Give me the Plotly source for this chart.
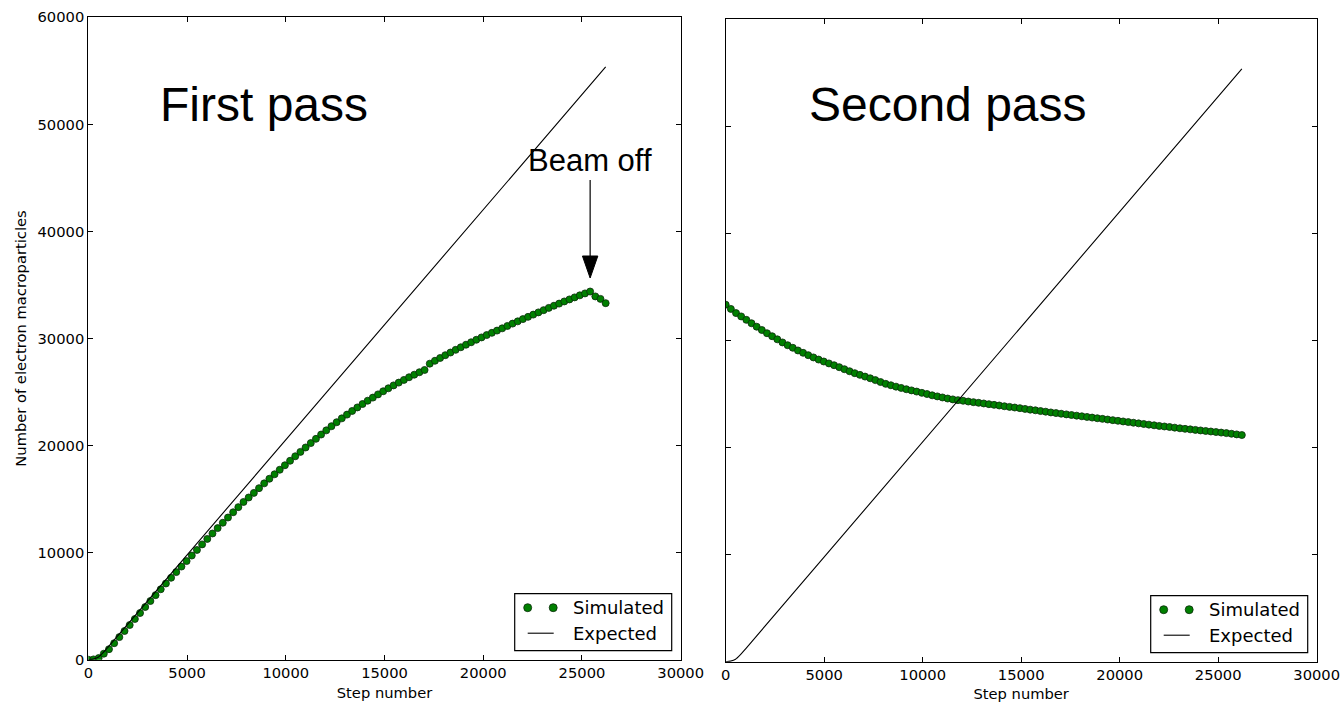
import plotly.graph_objects as go

# Electron macroparticle counts, sampled every STEP_INTERVAL steps
STEP_INTERVAL = 262

first_pass_electrons = [
    0, 30, 150, 560, 980, 1540, 2110, 2680, 3240, 3800,
    4360, 4920, 5480, 6030, 6580, 7120, 7650, 8180, 8700, 9210,
    9730, 10250, 10770, 11280, 11790, 12290, 12790, 13280, 13770, 14250,
    14730, 15150, 15580, 16020, 16470, 16900, 17320, 17740, 18160, 18580,
    19000, 19410, 19820, 20230, 20630, 21030, 21420, 21810, 22180, 22540,
    22890, 23230, 23560, 23880, 24190, 24480, 24780, 25070, 25350, 25620,
    25880, 26130, 26380, 26620, 26850, 27060, 27650, 27920, 28180, 28440,
    28690, 28940, 29180, 29420, 29650, 29880, 30100, 30320, 30530, 30740,
    30950, 31170, 31390, 31600, 31810, 32020, 32230, 32440, 32650, 32860,
    33060, 33260, 33460, 33650, 33840, 34030, 34210, 34390, 33930, 33700,
    33300,
]

second_pass_electrons = [
    33350, 32950, 32560, 32250, 31930, 31610, 31290, 30980, 30680, 30400,
    30110, 29820, 29560, 29320, 29070, 28850, 28630, 28420, 28220, 28040,
    27860, 27690, 27510, 27320, 27130, 26950, 26790, 26630, 26470, 26300,
    26120, 25950, 25820, 25690, 25570, 25450, 25340, 25230, 25110, 25000,
    24880, 24780, 24680, 24580, 24500, 24430, 24370, 24300, 24240, 24180,
    24120, 24050, 23990, 23930, 23860, 23800, 23740, 23680, 23610, 23540,
    23480, 23410, 23350, 23280, 23220, 23160, 23100, 23040, 22980, 22920,
    22860, 22800, 22740, 22680, 22620, 22560, 22500, 22440, 22380, 22320,
    22260, 22200, 22140, 22080, 22020, 21970, 21920, 21860, 21800, 21750,
    21700, 21650, 21600, 21550, 21500, 21450, 21400, 21350, 21290, 21230,
    21170,
]

steps = [STEP_INTERVAL * i for i in range(len(first_pass_electrons))]

expected_steps = [0, 250, 500, 750, 1000, 26200]
expected_electrons = [0, 55, 230, 660, 1183, 55362]

x_ticks = [0, 5000, 10000, 15000, 20000, 25000, 30000]
y_ticks = [0, 10000, 20000, 30000, 40000, 50000, 60000]

panel_titles = ["First pass", "Second pass"]
beam_off_label = "Beam off"
legend_labels = ["Simulated", "Expected"]
x_title = "Step number"
y_title = "Number of electron macroparticles"

# ---------------------------------------------------------------------------
W, H = 1340, 702
GREEN = "#008000"
EDGE = "#0b2a0b"
TICK_FONT = dict(family="DejaVu Sans", size=14.7, color="black")


def px(x):
    return x / W


def py(y):
    return 1 - y / H


# plot-area rectangles in pixels: (left, top, right, bottom)
panels = [(88.3, 17.3, 680.7, 659.7), (725.7, 19.3, 1316.7, 661.7)]

fig = go.Figure()

for i, series in enumerate([first_pass_electrons, second_pass_electrons]):
    xa = "x" if i == 0 else "x2"
    ya = "y" if i == 0 else "y2"
    fig.add_trace(go.Scatter(
        x=steps, y=series, mode="markers", xaxis=xa, yaxis=ya,
        marker=dict(size=7, color=GREEN, line=dict(color=EDGE, width=0.8)),
        showlegend=False, hoverinfo="skip",
    ))
    fig.add_trace(go.Scatter(
        x=expected_steps, y=expected_electrons, mode="lines", xaxis=xa, yaxis=ya,
        line=dict(color="black", width=1.1, shape="spline", smoothing=0.6),
        showlegend=False, hoverinfo="skip",
    ))

axis_common = dict(
    showline=True, linecolor="black", linewidth=1.2, mirror="ticks",
    ticks="inside", ticklen=5, tickwidth=1, tickcolor="black",
    showgrid=False, zeroline=False, tickfont=TICK_FONT, tickformat="d",
    automargin=False, ticklabeloverflow="allow",
)

layout_axes = {}
for i, (l, t, r, b) in enumerate(panels):
    sfx = "" if i == 0 else "2"
    layout_axes["xaxis" + sfx] = dict(
        axis_common, domain=[px(l), px(r)], range=[0, 30000], tickvals=x_ticks,
        anchor="y" + sfx,
        title=dict(text=x_title, font=TICK_FONT, standoff=7),
    )
    ydict = dict(
        axis_common, domain=[py(b), py(t)], range=[0, 60000], tickvals=y_ticks,
        anchor="x" + sfx,
    )
    if i == 0:
        ydict["title"] = dict(text=y_title, font=TICK_FONT, standoff=7)
    else:
        ydict["showticklabels"] = False
    layout_axes["yaxis" + sfx] = ydict

shapes = []
annotations = []

# panel headings
for title, cx in zip(panel_titles, [263.5, 948.0]):
    annotations.append(dict(
        text=title, xref="paper", yref="paper", x=px(cx), y=py(104),
        xanchor="center", yanchor="middle", showarrow=False,
        font=dict(family="Liberation Sans", size=48, color="black"),
    ))

# "Beam off" marker above the peak of the first pass
peak_idx = first_pass_electrons.index(max(first_pass_electrons))
peak_step = steps[peak_idx]
peak_val = first_pass_electrons[peak_idx]
shapes.append(dict(
    type="line", xref="x", yref="y", xsizemode="pixel", ysizemode="pixel",
    xanchor=peak_step, yanchor=peak_val, x0=0, x1=0, y0=34, y1=111.5,
    line=dict(color="black", width=1.2),
))
shapes.append(dict(
    type="path", xref="x", yref="y", xsizemode="pixel", ysizemode="pixel",
    xanchor=peak_step, yanchor=peak_val,
    path="M-7.7,35.5 L7.7,35.5 L0,13.5 Z",
    fillcolor="black", line=dict(color="black", width=1),
))
annotations.append(dict(
    text=beam_off_label, xref="x", yref="y", x=peak_step, y=peak_val,
    yshift=131.5, xanchor="center", yanchor="middle", showarrow=False,
    font=dict(family="Liberation Sans", size=31, color="black"),
))

# legend boxes drawn in each panel's lower-right corner
for (l, t, r, b) in panels:
    bx1, by1 = r - 9, b - 9
    bx0, by0 = bx1 - 157, by1 - 57
    shapes.append(dict(
        type="rect", xref="paper", yref="paper",
        x0=px(bx0), x1=px(bx1), y0=py(by1), y1=py(by0),
        line=dict(color="black", width=1.2), fillcolor="white", layer="above",
    ))
    row1 = by0 + 14
    row2 = by0 + 39.5
    for dx in (13, 38.5):
        cx = bx0 + dx
        shapes.append(dict(
            type="circle", xref="paper", yref="paper",
            x0=px(cx - 4), x1=px(cx + 4), y0=py(row1 + 4), y1=py(row1 - 4),
            fillcolor=GREEN, line=dict(color=EDGE, width=0.8), layer="above",
        ))
    shapes.append(dict(
        type="line", xref="paper", yref="paper",
        x0=px(bx0 + 13), x1=px(bx0 + 39), y0=py(row2), y1=py(row2),
        line=dict(color="black", width=1.1), layer="above",
    ))
    for label, ry in zip(legend_labels, [row1, row2]):
        annotations.append(dict(
            text=label, xref="paper", yref="paper", x=px(bx0 + 56.5), y=py(ry),
            xanchor="left", yanchor="middle", showarrow=False,
            font=dict(family="DejaVu Sans", size=18, color="black"),
        ))

fig.update_layout(
    width=W, height=H, margin=dict(l=0, r=0, t=0, b=0, autoexpand=False),
    paper_bgcolor="white", plot_bgcolor="white",
    shapes=shapes, annotations=annotations, **layout_axes,
)

fig.write_html("out.html", config={"displayModeBar": False})
